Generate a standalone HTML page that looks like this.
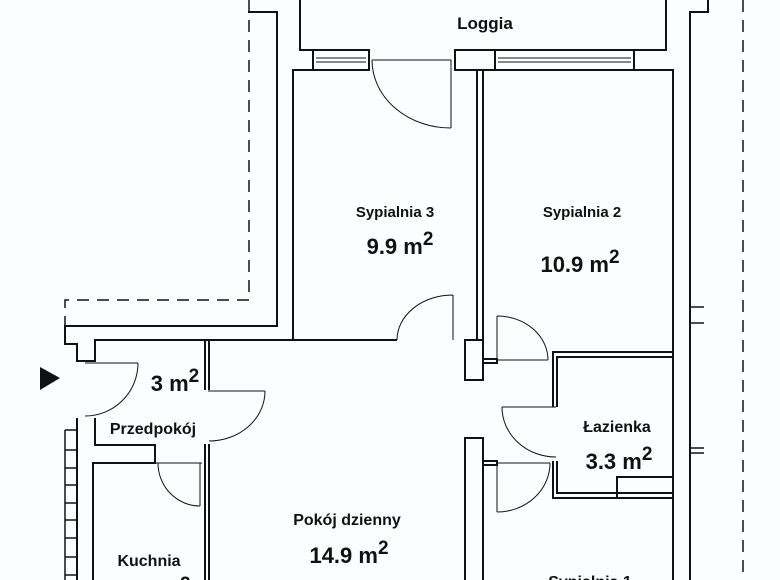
<!DOCTYPE html>
<html><head><meta charset="utf-8"><style>
html,body{margin:0;padding:0;background:#fbfdfe;width:780px;height:580px;overflow:hidden}
svg{display:block}
text{font-family:"Liberation Sans",sans-serif;font-weight:bold;fill:#111}
</style></head><body>
<svg width="780" height="580" viewBox="0 0 780 580" xmlns="http://www.w3.org/2000/svg">
<g fill="none" stroke="#111" stroke-width="2">
<path d="M249 0 V300 H65 V326" stroke-dasharray="12 8" stroke-width="1.5"/>
<path d="M743 0 V580" stroke-dasharray="12 8" stroke-width="1.5"/>
<path d="M248 12 H277 V326 H65 V344 H77 V361 H95 V340 H397"/>
<path d="M300 0 V50 H313"/>
<path d="M455 50 H666 V0"/>
<rect x="313" y="50" width="56" height="20"/>
<rect x="455" y="50" width="40" height="20"/>
<path d="M495 50 H634 V70 H495 Z"/>
<path d="M316 58 H366 M316 62 H366 M498 58 H631 M498 62 H631" stroke-width="1"/>
<path d="M313 70 H293 V340"/>
<path d="M477 70 V340 M483 70 V340"/>
<path d="M634 70 H673 V580"/>
<path d="M708 0 V12 H690 V580"/>
<path d="M690 307 H704 M690 323 H704 M690 448 H704 M690 453 H704" stroke-width="1.5"/>
<rect x="465" y="340" width="18" height="40"/>
<rect x="465" y="438" width="18" height="150"/>
<rect x="483" y="359" width="14" height="4"/>
<rect x="483" y="461" width="14" height="4"/>
<path d="M553 407 V352 H673 M557 407 V357 H673"/>
<path d="M553 461 V498 H673 M557 461 V493 H673"/>
<rect x="617" y="477" width="56" height="21"/>
<path d="M205 340 V390 M209 340 V390 M205 444 V580 M209 444 V580"/>
<path d="M77 418 V580 M95 418 V445 H155 V463 H93 V580"/>
<path d="M65 430 V580 M65 430 H77 M65 450 H77 M65 468 H77 M65 485 H77 M65 503 H77 M65 520 H77 M65 538 H77 M65 557 H77 M65 575 H77" stroke-width="1.5"/>
</g>
<g fill="none" stroke="#111" stroke-width="1">
<path d="M372 60 H451 V128 M372 60 A79 68 0 0 0 451 128"/>
<path d="M453 295 V340 M397 340 A56 45 0 0 1 453 295"/>
<path d="M497 316 V360 H548 M497 316 A51 44 0 0 1 548 360"/>
<path d="M502 407 H556 M502 407 A54 50 0 0 0 556 457"/>
<path d="M497 512 V463 H550 M497 512 A53 49 0 0 0 550 463"/>
<path d="M85 363 H138 M138 363 A53 53 0 0 1 85 416"/>
<path d="M208 391 H265 M265 391 A56 50 0 0 1 209 441"/>
<path d="M155 463 H202 M200 463 V506 M158 463 A42 43 0 0 0 200 506"/>
</g>
<polygon points="40,367 60,378 40,390" fill="#111"/>
<text x="485" y="29" font-size="17" text-anchor="middle">Loggia</text>
<text x="395" y="217" font-size="15" text-anchor="middle">Sypialnia 3</text>
<text x="400" y="254" font-size="22" text-anchor="middle">9.9 m<tspan dy="-9" font-size="19">2</tspan></text>
<text x="582" y="217" font-size="15" text-anchor="middle">Sypialnia 2</text>
<text x="580" y="272" font-size="22" text-anchor="middle">10.9 m<tspan dy="-9" font-size="19">2</tspan></text>
<text x="175" y="391" font-size="22" text-anchor="middle">3 m<tspan dy="-9" font-size="19">2</tspan></text>
<text x="153" y="434" font-size="16" text-anchor="middle">Przedpokój</text>
<text x="617" y="432" font-size="16" text-anchor="middle">Łazienka</text>
<text x="619" y="469" font-size="22" text-anchor="middle">3.3 m<tspan dy="-9" font-size="19">2</tspan></text>
<text x="347" y="525" font-size="16" text-anchor="middle">Pokój dzienny</text>
<text x="349" y="563" font-size="22" text-anchor="middle">14.9 m<tspan dy="-9" font-size="19">2</tspan></text>
<text x="149" y="566" font-size="16" text-anchor="middle">Kuchnia</text>
<text x="180" y="590" font-size="19">2</text>
<text x="590" y="587" font-size="16" text-anchor="middle">Sypialnia 1</text>
</svg>
</body></html>
